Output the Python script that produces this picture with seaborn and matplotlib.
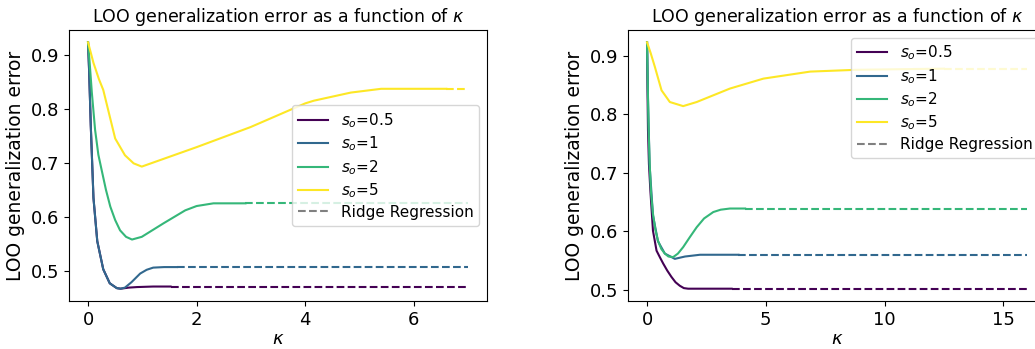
import numpy as np
import pandas as pd

import seaborn as sns
import matplotlib.pyplot as plt


labels = ["$s_o$=0.5", "$s_o$=1", "$s_o$=2", "$s_o$=5"]
colors = ["#440154", "#31688e", "#35b779", "#fde725"]

# left panel: kappa up to 7
k_max_left = 7
left_k = [
    [0, 0.02, 0.05, 0.1, 0.17, 0.28, 0.4, 0.53, 0.6, 0.75, 0.9, 1.2, 1.52],
    [0, 0.02, 0.05, 0.1, 0.17, 0.28, 0.4, 0.53, 0.6, 0.68, 0.8, 0.96, 1.08, 1.2, 1.4, 1.64],
    [0, 0.03, 0.07, 0.13, 0.19, 0.25, 0.33, 0.41, 0.5, 0.59, 0.7, 0.81, 0.99, 1.39, 1.79, 2.0, 2.31, 2.9],
    [0, 0.1, 0.2, 0.28, 0.5, 0.68, 0.84, 0.99, 2.0, 2.99, 4.0, 4.16, 4.84, 5.4, 6.6],
]
left_err = [
    [0.923, 0.87, 0.77, 0.635, 0.555, 0.503, 0.477, 0.468, 0.467, 0.469, 0.470, 0.471, 0.471],
    [0.923, 0.87, 0.77, 0.635, 0.555, 0.503, 0.477, 0.468, 0.467, 0.469, 0.479, 0.495, 0.502, 0.506, 0.507, 0.507],
    [0.923, 0.885, 0.83, 0.761, 0.715, 0.687, 0.65, 0.619, 0.594, 0.575, 0.563, 0.558, 0.563, 0.588, 0.612, 0.620, 0.625, 0.625],
    [0.923, 0.885, 0.855, 0.835, 0.745, 0.714, 0.699, 0.693, 0.729, 0.766, 0.810, 0.815, 0.830, 0.837, 0.837],
]
left_ridge = [0.471, 0.507, 0.625, 0.837]

# right panel: kappa up to 16
k_max_right = 16
right_k = [
    [0, 0.02, 0.04, 0.08, 0.14, 0.25, 0.4, 0.55, 0.68, 0.85, 1.03, 1.2, 1.38, 1.55, 1.73, 2.5, 3.56],
    [0, 0.04, 0.11, 0.25, 0.46, 0.75, 1.17, 1.6, 2.23, 3.0, 3.85],
    [0, 0.02, 0.04, 0.07, 0.11, 0.17, 0.25, 0.35, 0.46, 0.6, 0.75, 0.9, 1.1, 1.3, 1.52, 1.8, 2.09, 2.4, 2.79, 3.1, 3.49, 4.13],
    [0, 0.15, 0.33, 0.61, 0.96, 1.52, 2.09, 3.49, 4.9, 6.87, 8.78, 10.5, 12.5],
]
right_err = [
    [0.923, 0.84, 0.773, 0.715, 0.670, 0.601, 0.567, 0.555, 0.545, 0.533, 0.522, 0.513, 0.507, 0.503, 0.502, 0.502, 0.502],
    [0.923, 0.825, 0.712, 0.627, 0.583, 0.562, 0.553, 0.557, 0.560, 0.560, 0.560],
    [0.923, 0.875, 0.830, 0.770, 0.716, 0.665, 0.630, 0.603, 0.584, 0.570, 0.562, 0.557, 0.556, 0.562, 0.573, 0.590, 0.607, 0.622, 0.633, 0.637, 0.639, 0.639],
    [0.923, 0.905, 0.881, 0.841, 0.821, 0.814, 0.821, 0.844, 0.861, 0.873, 0.876, 0.877, 0.878],
]
right_ridge = [0.502, 0.560, 0.639, 0.878]


def draw(ax, ks, errs, ridge, k_max, legend_loc):
    for k, e, r, c, lab in zip(ks, errs, ridge, colors, labels):
        sns.lineplot(x=k, y=e, color=c, label=lab, ax=ax, linewidth=1.5)
        sns.lineplot(x=[k[-1], k_max], y=[r, r], color=c, linestyle="--", ax=ax, linewidth=1.5)
    ax.plot([], [], "--", color="gray", label="Ridge Regression")
    ax.set_xlabel(r"$\kappa$", fontsize=13, labelpad=1)
    ax.set_ylabel("LOO generalization error", fontsize=13.5)
    ax.set_title(r"LOO generalization error as a function of $\kappa$", fontsize=12.5)
    ax.tick_params(labelsize=13)
    ax.legend(loc=legend_loc, fontsize=11, labelspacing=0.3)


fig = plt.figure(figsize=(10.35, 3.49), dpi=100)
ax1 = fig.add_axes([0.0667, 0.1375, 0.4039, 0.7765])
ax2 = fig.add_axes([0.6068, 0.1375, 0.4039, 0.7765])

draw(ax1, left_k, left_err, left_ridge, k_max_left, "center right")
draw(ax2, right_k, right_err, right_ridge, k_max_right, "upper right")
ax1.set_xticks([0, 2, 4, 6])
ax2.set_xticks([0, 5, 10, 15])

plt.savefig("out.png", dpi=100)
plt.close()
